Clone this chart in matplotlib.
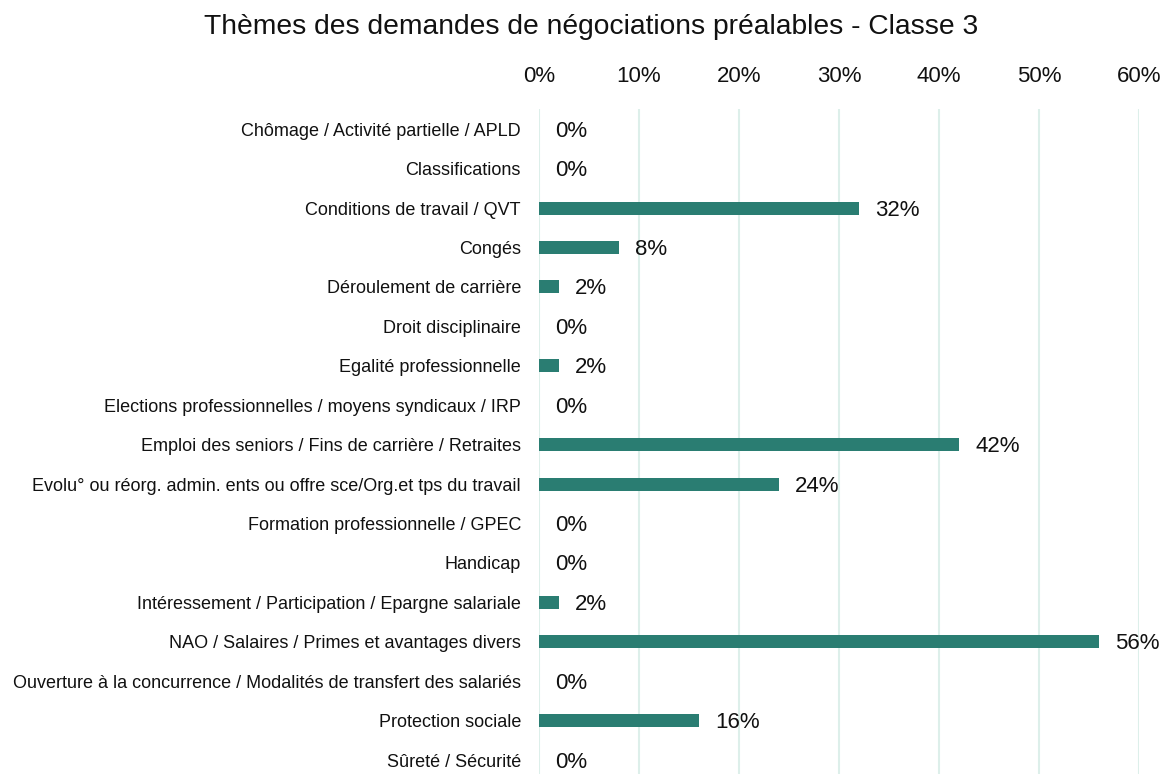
import matplotlib.pyplot as plt
import numpy as np

plt.rcParams['font.family'] = ['Liberation Sans', 'DejaVu Sans']

# Thèmes (ordre du haut vers le bas)
themes = [
    "Chômage / Activité partielle / APLD",
    "Classifications",
    "Conditions de travail / QVT",
    "Congés",
    "Déroulement de carrière",
    "Droit disciplinaire",
    "Egalité professionnelle",
    "Elections professionnelles / moyens syndicaux / IRP",
    "Emploi des seniors / Fins de carrière / Retraites",
    "Evolu° ou réorg. admin. ents ou offre sce/Org.et tps du travail",
    "Formation professionnelle / GPEC",
    "Handicap",
    "Intéressement / Participation / Epargne salariale",
    "NAO / Salaires / Primes et avantages divers",
    "Ouverture à la concurrence / Modalités de transfert des salariés",
    "Protection sociale",
    "Sûreté / Sécurité",
]
# Part des demandes (%)
parts = [0, 0, 32, 8, 2, 0, 2, 0, 42, 24, 0, 0, 2, 56, 0, 16, 0]

bar_color = '#2A7D72'
grid_color = '#DDEFEA'

fig = plt.figure(figsize=(11.62, 7.74), dpi=100)
ax = fig.add_axes([0.4639, -0.0074, 0.5164, 0.866])

y = np.arange(len(themes))
ax.barh(y, parts, height=0.33, color=bar_color, zorder=3)

# étiquettes de valeur à droite des barres
for yi, v in zip(y, parts):
    ax.annotate(f"{v}%", xy=(v, yi), xytext=(16, -2), textcoords='offset pixels',
                va='center', ha='left', fontsize=16, color='#111111')

ax.set_xlim(0, 60)
ax.set_ylim(len(themes) - 0.5, -0.5)
ax.set_xticks(np.arange(0, 61, 10))
ax.set_xticklabels([f"{t}%" for t in range(0, 61, 10)])
ax.xaxis.tick_top()
ax.tick_params(axis='x', length=0, pad=16, labelsize=16, labelcolor='#111111')
ax.set_yticks(y)
ax.set_yticklabels(themes)
ax.tick_params(axis='y', length=0, pad=13, labelsize=13, labelcolor='#111111')

ax.grid(True, axis='x', color=grid_color, linewidth=1.5, zorder=0)
for s in ax.spines.values():
    s.set_visible(False)

fig.text(0.509, 0.965, "Thèmes des demandes de négociations préalables - Classe 3",
         ha='center', va='center', fontsize=20.3, color='#111111')

fig.savefig('out.png', dpi=100)
